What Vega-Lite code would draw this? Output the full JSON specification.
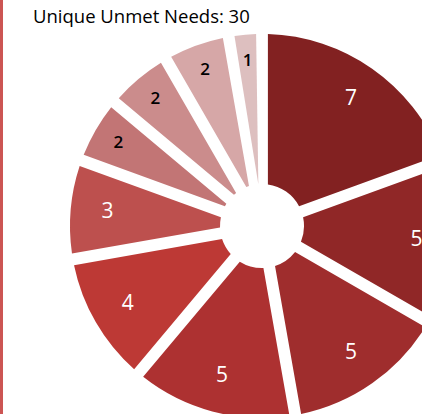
{
  "$schema": "https://vega.github.io/schema/vega-lite/v6.json",
  "width": 524,
  "height": 452,
  "autosize": {"type": "none"},
  "padding": 0,
  "background": "white",
  "config": {"view": {"stroke": null}},
  "title": {
    "text": "Unique Unmet Needs: 30",
    "anchor": "start",
    "frame": "group",
    "font": "Open Sans",
    "fontSize": 18.5,
    "fontWeight": "normal",
    "color": "#000000",
    "dx": 33,
    "dy": 33
  },
  "data": {
    "values": [
      {"k": 1, "count": 7},
      {"k": 2, "count": 5},
      {"k": 3, "count": 5},
      {"k": 4, "count": 5},
      {"k": 5, "count": 4},
      {"k": 6, "count": 3},
      {"k": 7, "count": 2},
      {"k": 8, "count": 2},
      {"k": 9, "count": 2},
      {"k": 10, "count": 1}
    ]
  },
  "layer": [
    {
      "mark": {"type": "rule", "color": "#cc5553", "strokeWidth": 6},
      "encoding": {
        "x": {"datum": 0, "type": "quantitative", "scale": {"domain": [0, 1]}, "axis": null}
      }
    },
    {
      "mark": {"type": "arc", "outerRadius": 192, "innerRadius": 42, "padAngle": 0.06},
      "encoding": {
        "theta": {"field": "count", "type": "quantitative", "stack": true},
        "order": {"field": "k", "type": "quantitative", "sort": "ascending"},
        "color": {
          "field": "k",
          "type": "ordinal",
          "scale": {
            "domain": [1, 2, 3, 4, 5, 6, 7, 8, 9, 10],
            "range": ["#822121", "#902727", "#9f2d2d", "#ad3131", "#bd3935", "#bd504e", "#c27575", "#cb8c8c", "#d6a7a7", "#ddbfbf"]
          },
          "legend": null
        }
      }
    },
    {
      "mark": {"type": "text", "font": "Open Sans", "radius": 155, "fontSize": 21, "color": "#ffffff"},
      "encoding": {
        "theta": {"field": "count", "type": "quantitative", "stack": true},
        "order": {"field": "k", "type": "quantitative", "sort": "ascending"},
        "text": {"field": "count", "type": "quantitative"},
        "opacity": {"condition": {"test": "datum.count <= 2", "value": 0}, "value": 1}
      }
    },
    {
      "mark": {"type": "text", "font": "Open Sans", "radius": 166, "fontSize": 17, "fontWeight": 600, "color": "#000000"},
      "encoding": {
        "theta": {"field": "count", "type": "quantitative", "stack": true},
        "order": {"field": "k", "type": "quantitative", "sort": "ascending"},
        "text": {"field": "count", "type": "quantitative"},
        "opacity": {"condition": {"test": "datum.count <= 2", "value": 1}, "value": 0}
      }
    }
  ]
}
